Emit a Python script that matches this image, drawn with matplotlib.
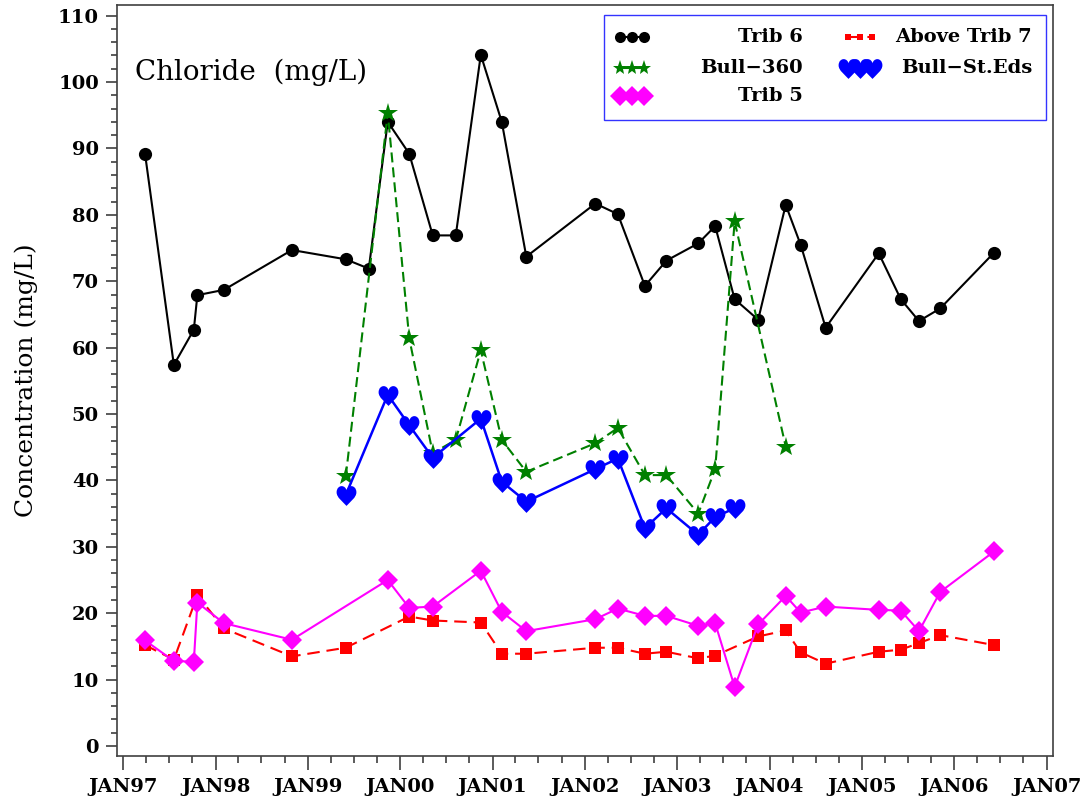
import matplotlib
matplotlib.use("Agg")
import matplotlib.pyplot as plt
import matplotlib.dates as mdates
from matplotlib.path import Path
from matplotlib.patches import Rectangle
from matplotlib.ticker import MultipleLocator, FuncFormatter
import pandas as pd

# --- data ----------------------------------------------------------------
trib6_dates = ["1997-03-28", "1997-07-20", "1997-10-07", "1997-10-21", "1998-02-03",
               "1998-10-30", "1999-05-31", "1999-08-30", "1999-11-13", "2000-02-06",
               "2000-05-09", "2000-08-08", "2000-11-15", "2001-02-06", "2001-05-14",
               "2002-02-11", "2002-05-11", "2002-08-26", "2002-11-19", "2003-03-25",
               "2003-05-31", "2003-08-16", "2003-11-17", "2004-03-05", "2004-05-03",
               "2004-08-10", "2005-03-08", "2005-06-03", "2005-08-14", "2005-11-06",
               "2006-06-07"]
trib6_vals = [89.2, 57.4, 62.7, 67.9, 68.7, 74.7, 73.3, 71.9, 94.0, 89.2,
              76.9, 76.9, 104.1, 94.0, 73.7, 81.7, 80.1, 69.3, 73.1, 75.7,
              78.3, 67.3, 64.2, 81.5, 75.5, 63.0, 74.2, 67.3, 64.0, 65.9, 74.3]

above7_dates = ["1997-03-28", "1997-07-20", "1997-10-21", "1998-02-03", "1998-10-30",
                "1999-05-31", "2000-02-06", "2000-05-09", "2000-11-15", "2001-02-06",
                "2001-05-14", "2002-02-11", "2002-05-11", "2002-08-26", "2002-11-19",
                "2003-03-25", "2003-05-31", "2003-11-17", "2004-03-05", "2004-05-03",
                "2004-08-10", "2005-03-08", "2005-06-03", "2005-08-14", "2005-11-06",
                "2006-06-07"]
above7_vals = [15.2, 13.0, 22.7, 17.7, 13.5, 14.8, 19.5, 18.9, 18.6, 13.9,
               13.9, 14.8, 14.8, 13.9, 14.2, 13.2, 13.6, 16.5, 17.4, 14.1,
               12.4, 14.2, 14.5, 15.5, 16.7, 15.2]

bull360_dates = ["1999-05-31", "1999-11-13", "2000-02-06", "2000-05-09", "2000-08-08",
                 "2000-11-15", "2001-02-06", "2001-05-14", "2002-02-11", "2002-05-11",
                 "2002-08-26", "2002-11-19", "2003-03-25", "2003-05-31", "2003-08-16",
                 "2004-03-05"]
bull360_vals = [40.6, 95.3, 61.4, 44.1, 46.1, 59.6, 46.1, 41.3, 45.6, 47.9,
                40.8, 40.8, 35.0, 41.7, 79.0, 45.1]

steds_dates = ["1999-05-31", "1999-11-13", "2000-02-06", "2000-05-09", "2000-11-15",
               "2001-02-06", "2001-05-14", "2002-02-11", "2002-05-11", "2002-08-26",
               "2002-11-19", "2003-03-25", "2003-05-31", "2003-08-16"]
steds_vals = [37.8, 52.9, 48.3, 43.4, 49.3, 39.8, 36.8, 41.7, 43.3, 32.8,
              35.8, 31.8, 34.5, 35.8]

trib5_dates = ["1997-03-28", "1997-07-20", "1997-10-07", "1997-10-21", "1998-02-03",
               "1998-10-30", "1999-11-13", "2000-02-06", "2000-05-09", "2000-11-15",
               "2001-02-06", "2001-05-14", "2002-02-11", "2002-05-11", "2002-08-26",
               "2002-11-19", "2003-03-25", "2003-05-31", "2003-08-16", "2003-11-17",
               "2004-03-05", "2004-05-03", "2004-08-10", "2005-03-08", "2005-06-03",
               "2005-08-14", "2005-11-06", "2006-06-07"]
trib5_vals = [15.9, 12.8, 12.7, 21.6, 18.5, 16.0, 25.0, 20.8, 21.0, 26.4,
              20.2, 17.3, 19.1, 20.7, 19.6, 19.6, 18.1, 18.5, 8.9, 18.3,
              22.6, 20.1, 21.0, 20.5, 20.4, 17.3, 23.2, 29.3]

FONT = "DejaVu Serif"

# filled heart marker (SAS "heart" symbol)
_heart_verts = [(0, -1.0),
                (-0.35, -0.6), (-0.95, -0.2), (-0.95, 0.3),
                (-0.95, 0.7), (-0.7, 0.9), (-0.47, 0.9),
                (-0.22, 0.9), (-0.05, 0.72), (0, 0.5),
                (0.05, 0.72), (0.22, 0.9), (0.47, 0.9),
                (0.7, 0.9), (0.95, 0.7), (0.95, 0.3),
                (0.95, -0.2), (0.35, -0.6), (0, -1.0),
                (0, -1.0)]
_heart_codes = [Path.MOVETO] + [Path.CURVE4] * 18 + [Path.CLOSEPOLY]
HEART = Path(_heart_verts, _heart_codes)

# (label, dates, values, colour, marker, markersize, linestyle, linewidth, legend ms)
series = [
    ("Trib 6", trib6_dates, trib6_vals, "black", "o", 9.5, "-", 1.5, 8),
    ("Above Trib 7", above7_dates, above7_vals, "#FF0000", "s", 8.5, (0, (6, 3.3)), 1.5, 5),
    ("Bull\u2212360", bull360_dates, bull360_vals, "#008000", "*", 15, (0, (4.8, 2.4)), 1.5, 11),
    ("Bull\u2212St.Eds", steds_dates, steds_vals, "#0000FF", HEART, 15, "-", 1.8, 15),
    ("Trib 5", trib5_dates, trib5_vals, "#FF00FF", "D", 10, "-", 1.5, 10.5),
]

fig = plt.figure(figsize=(10.88, 8.08), dpi=100)
ax = fig.add_axes([0.1075, 0.0644, 0.8603, 0.9294])

for label, d, v, c, m, ms, ls, lw, _ in series:
    ax.plot(pd.to_datetime(d), v, color=c, marker=m, markersize=ms,
            linestyle=ls, linewidth=lw, markeredgewidth=0)

# axes / ticks
ax.set_xlim(pd.Timestamp("1996-12-07"), pd.Timestamp("2007-01-26"))
ax.set_ylim(-1.5, 111.6)
ax.xaxis.set_major_locator(mdates.YearLocator())
ax.xaxis.set_minor_locator(mdates.MonthLocator(bymonth=[4, 7, 10]))
ax.xaxis.set_major_formatter(
    FuncFormatter(lambda x, pos: mdates.num2date(x).strftime("%b%y").upper()))
ax.yaxis.set_major_locator(MultipleLocator(10))
ax.yaxis.set_minor_locator(MultipleLocator(2))

ax.tick_params(axis="x", which="major", length=10, width=1.2, pad=6, color="#404040")
ax.tick_params(axis="x", which="minor", length=5, width=1.2, color="#404040")
ax.tick_params(axis="y", which="major", length=8, width=1.2, pad=5, color="#404040")
ax.tick_params(axis="y", which="minor", length=4, width=1.2, color="#404040")
for lab in ax.get_xticklabels() + ax.get_yticklabels():
    lab.set_fontfamily(FONT)
    lab.set_fontweight("bold")
    lab.set_fontsize(14)
for sp in ax.spines.values():
    sp.set_color("#404040")
    sp.set_linewidth(1.2)

ax.set_ylabel("Concentration (mg/L)", fontfamily=FONT, fontsize=18, labelpad=14)
ax.text(0.019, 0.911, "Chloride  (mg/L)", transform=ax.transAxes,
        fontfamily=FONT, fontsize=20, va="center", ha="left")

# legend box, built by hand so the labels are right-aligned like the original
ax.add_patch(Rectangle((0.5203, 0.8469), 0.4722, 0.1398, transform=ax.transAxes,
                       facecolor="white", edgecolor="#3333FF", linewidth=1.0,
                       zorder=5, clip_on=False))
legend_slots = {
    "Trib 6": (0.5374, 0.9574, 0.7329),
    "Bull\u2212360": (0.5374, 0.9161, 0.7329),
    "Trib 5": (0.5374, 0.8788, 0.7329),
    "Above Trib 7": (0.7810, 0.9574, 0.9776),
    "Bull\u2212St.Eds": (0.7810, 0.9161, 0.9776),
}
step = 0.0128
for label, d, v, c, m, ms, ls, lw, lms in series:
    x0, y0, xt = legend_slots[label]
    ax.plot([x0, x0 + step, x0 + 2 * step], [y0] * 3, transform=ax.transAxes,
            color=c, marker=m, markersize=lms, linestyle=ls, linewidth=lw,
            markeredgewidth=0, clip_on=False, zorder=6)
    ax.text(xt, y0, label, transform=ax.transAxes, ha="right", va="center",
            fontfamily=FONT, fontweight="bold", fontsize=14, zorder=6)

fig.savefig("out.png", dpi=100)
